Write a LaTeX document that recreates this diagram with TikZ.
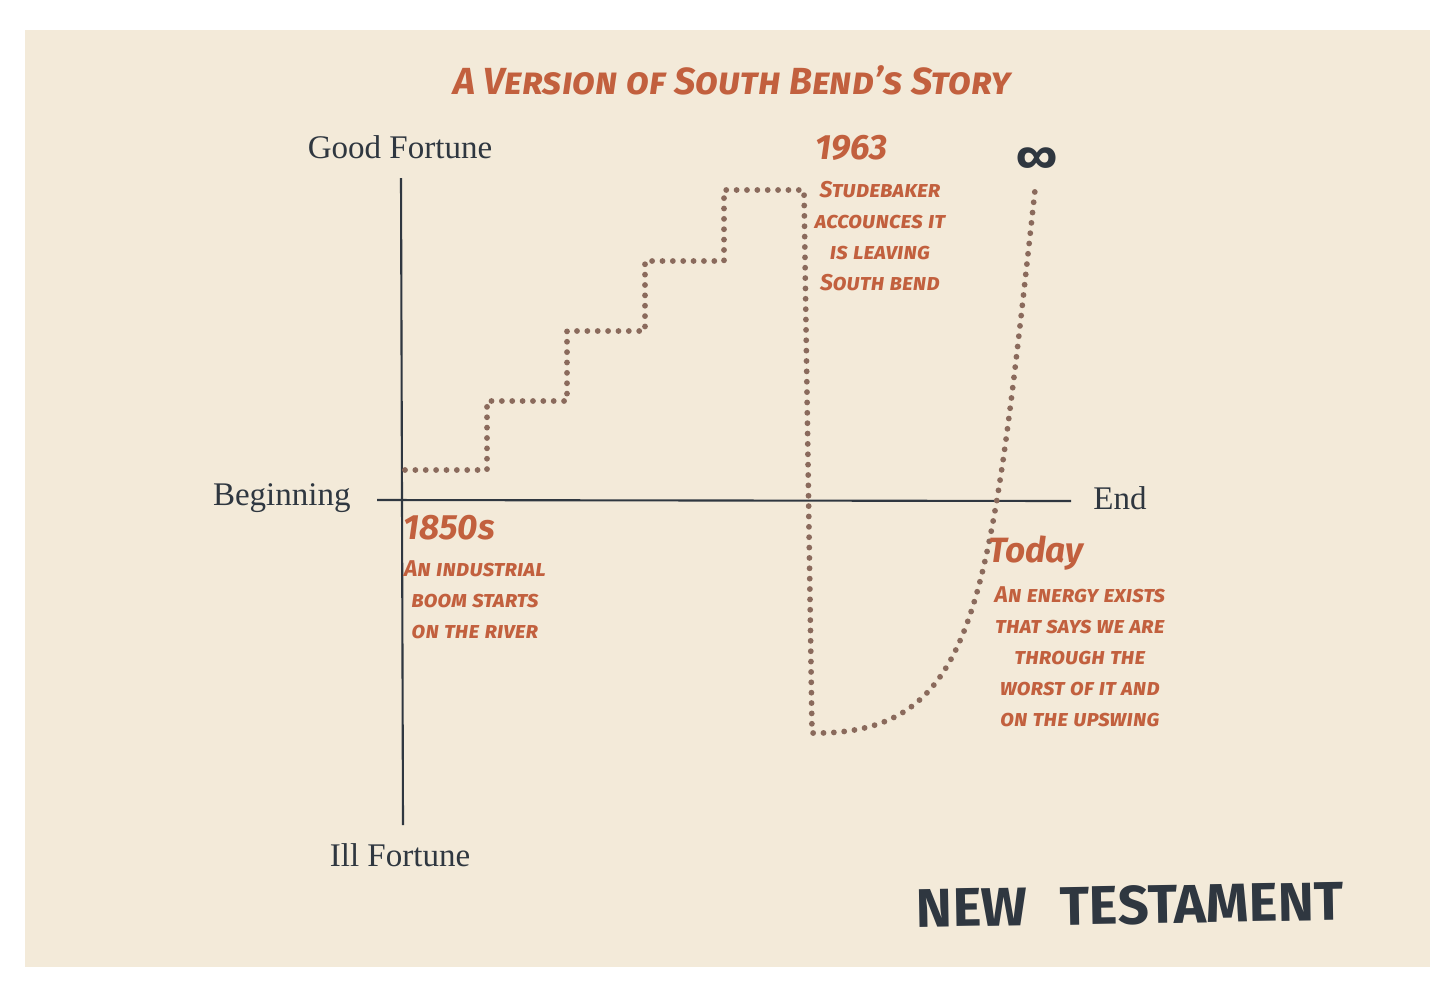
\documentclass[tikz,border=0pt]{standalone}
\usepackage{fontspec}
\setmainfont{Liberation Serif}
\setsansfont{Fira Sans}
\usetikzlibrary{positioning}
\definecolor{paper}{HTML}{F3EAD9}
\definecolor{rust}{HTML}{C2603E}
\definecolor{ink}{HTML}{2F3740}
\definecolor{dotbrown}{HTML}{8A6A5C}
\tikzset{
  axis/.style={draw=ink, line width=1.2pt},
  trail/.style={draw=dotbrown, line width=3.3pt, line cap=round, dash pattern=on 0pt off 5.9pt},
  pole/.style={text=ink, inner sep=0pt, font=\fontsize{18.8}{21}\selectfont},
  year/.style={text=rust, inner sep=0pt, font=\sffamily\bfseries\itshape\fontsize{20}{22}\selectfont},
  note/.style={text=rust, inner sep=0pt, align=center, font=\sffamily\bfseries\itshape\scshape\fontsize{13}{17.6}\selectfont},
}
\begin{document}
\begin{tikzpicture}[x=0.02cm, y=-0.02cm]
  \fill[white] (0,0) rectangle (1456,998);
  \useasboundingbox (0,0) rectangle (1456,998);
  \fill[paper] (25,30) rectangle (1430,967);
  % title
  \node[text=rust, font=\sffamily\bfseries\itshape\scshape\fontsize{21.5}{24}\selectfont] (title) at (732,80) {A Version of South Bend's Story};
  % axes
  \coordinate (top) at (401,178);
  \coordinate (bottom) at (403,825);
  \coordinate (left) at (377,500);
  \coordinate (right) at (1071,501);
  \draw[axis] (top) -- (bottom);
  \draw[axis] (left) -- (right);
  \node[pole] (good) at (400,147) {Good Fortune};
  \node[pole] (ill) at (400,855) {Ill Fortune};
  \node[pole, anchor=east] (begin) at (351,498) {Beginning};
  \node[pole, anchor=west] (end) at (1093,498) {End};
  % the story
  \coordinate (s0) at (405,470);
  \coordinate (s1) at (487,470);
  \coordinate (s2) at (487,401);
  \coordinate (s3) at (567,401);
  \coordinate (s4) at (567,331);
  \coordinate (s5) at (645,331);
  \coordinate (s6) at (645,261);
  \coordinate (s7) at (724,261);
  \coordinate (s8) at (724,190);
  \coordinate (peak) at (804,190);
  \coordinate (low) at (812,733);
  \coordinate (inf) at (1035,190);
  \draw[trail] (s0) -- (s1) -- (s2) -- (s3) -- (s4) -- (s5) -- (s6) -- (s7) -- (s8) -- (peak) -- (low)
    .. controls (980,735) and (990,600) .. (inf);
  % labels
  \node[year, anchor=west] (y1850) at (403,528) {1850s};
  \node[note] (n1850) at (475,600) {An industrial\\boom starts\\on the river};
  \node[year, anchor=west] (y1963) at (815,148) {1963};
  \node[note] (n1963) at (880,236) {Studebaker\\accounces it\\is leaving\\South bend};
  \node[text=ink, font=\sffamily\bfseries\fontsize{26}{28}\selectfont] (infty) at (1037,160) {∞};
  \node[year, anchor=west] (today) at (988,553) {Today};
  \node[note] (ntoday) at (1080,657) {An energy exists\\that says we are\\through the\\worst of it and\\on the upswing};
  \node[text=ink, font=\sffamily\fontseries{sb}\selectfont\fontsize{31}{34}\selectfont, rotate=1] (brand) at (1130,905) {NEW\hspace{0.6em}TESTAMENT};
\end{tikzpicture}
\end{document}
